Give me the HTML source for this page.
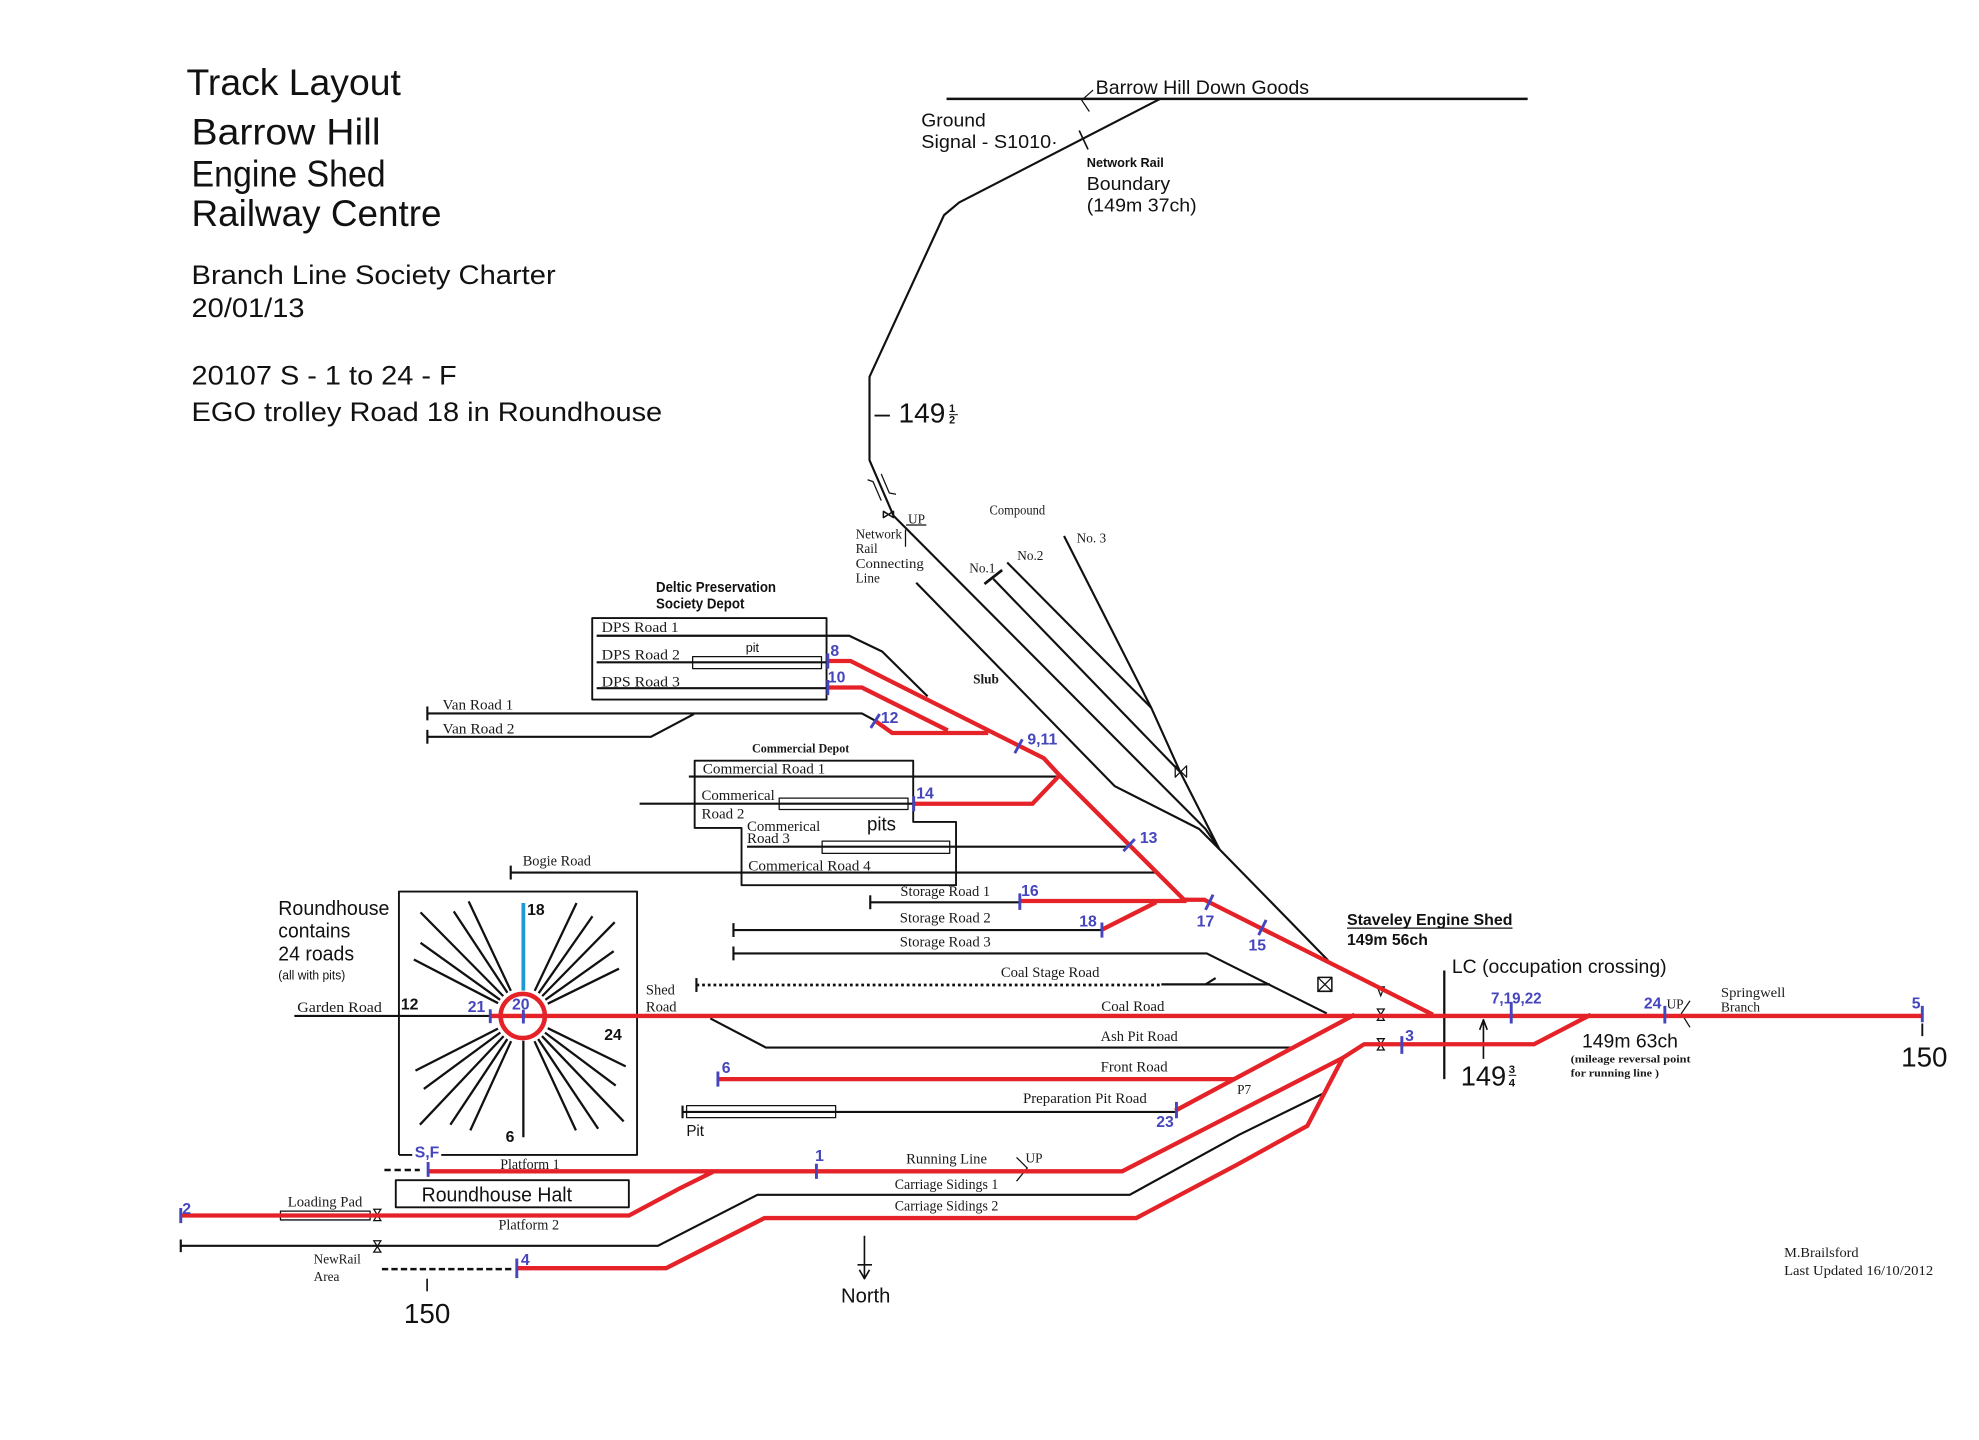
<!DOCTYPE html>
<html><head><meta charset="utf-8"><style>
html,body{margin:0;padding:0;background:#fff;}
svg{display:block;}
.s{font-family:"Liberation Serif",serif;font-size:11.5px;fill:#1a1a1a;}
.a{font-family:"Liberation Sans",sans-serif;fill:#111;}
.bl{font-family:"Liberation Sans",sans-serif;font-weight:bold;font-size:12.5px;fill:#4545bd;}
.bk{font-family:"Liberation Sans",sans-serif;font-weight:bold;font-size:12.5px;fill:#111;}
</style></head><body>
<svg xmlns="http://www.w3.org/2000/svg" width="1979" height="1440" viewBox="0 0 1560 1135" preserveAspectRatio="none">
<rect width="1560" height="1135" fill="#fff"/>

<!-- Title block -->
<g class="a">
<text x="147" y="75" font-size="29" textLength="169" lengthAdjust="spacingAndGlyphs">Track Layout</text>
<text x="151" y="114" font-size="29" textLength="149" lengthAdjust="spacingAndGlyphs">Barrow Hill</text>
<text x="151" y="147" font-size="29" textLength="153" lengthAdjust="spacingAndGlyphs">Engine Shed</text>
<text x="151" y="178" font-size="29" textLength="197" lengthAdjust="spacingAndGlyphs">Railway Centre</text>
<text x="151" y="224" font-size="21" textLength="287" lengthAdjust="spacingAndGlyphs">Branch Line Society Charter</text>
<text x="151" y="250" font-size="21" textLength="89" lengthAdjust="spacingAndGlyphs">20/01/13</text>
<text x="151" y="303" font-size="21" textLength="209" lengthAdjust="spacingAndGlyphs">20107 S - 1 to 24 - F</text>
<text x="151" y="332" font-size="21" textLength="371" lengthAdjust="spacingAndGlyphs">EGO trolley Road 18 in Roundhouse</text>
</g>

<g transform="matrix(0.9958 0 0 0.9956 -0.7 0.3)">
<!-- Black track lines -->
<g fill="none" stroke="#111" stroke-width="1.7" stroke-linejoin="round">
<path d="M750 78 H1210" stroke-width="2"/>
<path d="M919 78 L760 160 L748 170 L689 298 L689 364 L708 408 L955 656 L966 672 L1052 760"/>
<path d="M726 461 L883 622 L950 656 L966 672"/>
<path d="M787 458 L935 611"/>
<path d="M798 445 L912 560"/>
<path d="M843 424 L912 560 L935 611 L966 672"/>
<rect x="469.5" y="489" width="185.5" height="64.5" stroke-width="1.5"/>
<path d="M473 503 H673 L699 515.5 L735 551"/>
<path d="M473 524 H656"/>
<rect x="549" y="519.5" width="102" height="9.5" stroke-width="1"/>
<path d="M473 544.5 H656"/>
<path d="M339 564.5 H683 L693 570"/>
<path d="M339 559 V570"/>
<path d="M339 583 H516 L550 565"/>
<path d="M339 577.5 V588.5"/>
<path d="M550.6 601.9 H723.6 V650.4 H757.5 V700.5 H587.7 V655.2 H550.6 Z" stroke-width="1.5"/>
<path d="M546 614.5 H840"/>
<path d="M507 636 H725"/>
<rect x="617.5" y="631.6" width="102" height="9" stroke-width="1"/>
<path d="M592 670 H893"/>
<rect x="651.5" y="665.6" width="101" height="9.7" stroke-width="1"/>
<path d="M405 690.5 H915"/>
<path d="M405 685 V696"/>
<path d="M689.6 714 H808"/>
<path d="M689.6 708.5 V719.5"/>
<path d="M581.3 736 H873"/>
<path d="M581.3 730.5 V741.5"/>
<path d="M581.3 754.5 H956 L1051 802"/>
<path d="M581.3 749 V760"/>
<path d="M552 779.5 H920" stroke-dasharray="2.2 2.3" stroke-width="2.2"/>
<path d="M552 774 V785"/>
<path d="M920 779 H1006"/>
<path d="M955 779 L963 774"/>
<path d="M563 806 L607 829 H1025"/>
<path d="M541 880 H931"/>
<path d="M541 875 V885"/>
<rect x="544.2" y="875" width="118" height="9.5" stroke-width="1"/>
<path d="M143.8 986 H521.5 L600.3 945.6 H895 L981.7 898 L1049 865"/>
<path d="M143.8 981 V991"/>
<path d="M233.7 804 H396"/>
<path d="M316.5 914 V705.5 H505 V914 H350 M316.5 914 H327" stroke-width="1.5"/>
<rect x="314" y="934" width="184.5" height="21.5" stroke-width="1.5"/>
<path d="M305 926 H333" stroke-dasharray="5 3" stroke-width="2"/>
<path d="M303 1004.4 H408" stroke-dasharray="5 2.5" stroke-width="2"/>
<rect x="222.7" y="958.5" width="71" height="7" stroke-width="1"/>
<path d="M685 978 V1012 M681 1005 L685 1012 L689 1005 M679.5 1001 H691" stroke-width="1.3"/>
<path d="M338.8 1012 V1022" stroke-width="1.3"/>
<path d="M1522.4 810 V820" stroke-width="1.5"/>
<path d="M1144 768 V854" stroke-width="1.8"/>
<path d="M1175 838 V808 M1172 815 L1175 807 L1178 815" stroke-width="1.3"/>
<path d="M855 103 L862 118" stroke-width="1.3"/>
<path d="M866 71 L857 79 L863 88" stroke-width="1"/>
<path d="M805.4 916 L813.9 924.4 L805.4 934.8" stroke-width="1"/>
<path d="M1338.5 792 L1331.7 802 L1338.5 813" stroke-width="1"/>
<rect x="1044" y="773.5" width="11" height="11" stroke-width="1.2"/>
<path d="M1044 773.5 L1055 784.5 M1055 773.5 L1044 784.5" stroke-width="1"/>
<path d="M780 462 L794 451" stroke-width="2.2"/>
<path d="M717.5 419 V432.5 M718 415.3 H734" stroke-width="1"/>
<path d="M687.5 379.5 L691.8 381 L698.3 396 M698.3 375 L704.7 390 L710 391" stroke-width="1"/>
<path d="M700 404.5 L708 409.5 V404.5 L700 409.5 Z" stroke-width="1.2"/>
<path d="M931 606 L940 615 L940 606 L931 615 Z" stroke-width="1"/>
</g>

<!-- Hourglass symbols -->
<g fill="none" stroke="#111" stroke-width="1">
<path d="M1091 781 H1096.5 L1093.7 788 Z"/>
<path d="M1091 798.5 H1096.5 L1091 807.5 H1096.5 Z"/>
<path d="M1091 822 H1096.5 L1091 831 H1096.5 Z"/>
<path d="M296.6 957 H302.2 L296.6 966 H302.2 Z"/>
<path d="M296.6 982 H302.2 L296.6 991 H302.2 Z"/>
</g>

<!-- Roundhouse spokes -->
<g stroke="#111" stroke-width="1.8" fill="none">
<path d="M405.1 784.1 L371.7 713.3 M402.4 785.6 L359.9 721.2 M399.1 788.3 L333.6 722 M396.6 791.2 L333.6 746.1 M395 793.9 L328.3 759.3"/>
<path d="M424 784.1 L457.1 714.6 M427.1 786 L469.7 725.1 M429.9 788.3 L487.3 729.8 M432.4 791.2 L486.5 752.7 M434.3 794.3 L490.7 766.6"/>
<path d="M394.9 814 L329.6 847.3 M396.8 817.1 L336.2 861.8 M399.4 820 L333.1 890.1 M402.3 822.3 L357.2 890.1 M405.3 824 L373 894.6"/>
<path d="M434.3 813.7 L496 843.9 M432.1 817.2 L488.1 859.1 M429.7 819.9 L494.4 887.5 M426.7 822.3 L474.2 893.3 M423.8 824 L456.6 894.6"/>
<path d="M415 823.6 V900"/>
</g>
<path d="M415 714.6 V784" stroke="#2196d8" stroke-width="3"/>

<!-- Red lines -->
<g fill="none" stroke="#e42228" stroke-width="3.4" stroke-linejoin="miter">
<circle cx="414.5" cy="804" r="17.5" fill="#fff" stroke-width="3.6"/>
<path d="M656 523 H674 L827 600 L839 613 L938 712 H954 L1135 803"/>
<path d="M656 544 H683 L751 578"/>
<path d="M693 570 L707 580 H783"/>
<path d="M723 636 H818 L839 614"/>
<path d="M808 713 H940"/>
<path d="M872.4 736 L916 714"/>
<path d="M388 804 H1522"/>
<path d="M569 854 H978"/>
<path d="M931 879 L1073 803"/>
<path d="M339.6 927 H889 L1063.6 837.2 L1080.5 826.4 H1215 L1260 803"/>
<path d="M143.8 962 H498.6 L538.6 940.6 L565 927.5"/>
<path d="M409.8 1003.7 H528 L605.9 964 H900.2 L979.5 922 L1035.6 891 L1063.6 837.2"/>
</g>

<!-- Blue ticks -->
<g stroke="#4545bd" stroke-width="2.3" fill="none">
<path d="M656 517 V529 M656 538 V550 M690 576 L697 565 M804 596 L810 585 M724 630 V642 M890 673.5 L899 664"/>
<path d="M808 707 V720 M873 730 V742 M955 720 L961 708 M997 740 L1003 728 M932 872 V885 M569 848 V860"/>
<path d="M647 921 V933 M339.6 919.6 V931.4 M143.8 956 V968 M409.8 996 V1011.6 M388.8 798.7 V809.7 M415 799 V810"/>
<path d="M1110.4 820 V834 M1197 793 V810 M1318.6 796 V810 M1522.4 796 V809"/>
</g>

<!-- Blue labels -->
<g class="bl">
<text x="658" y="519">8</text>
<text x="656" y="540">10</text>
<text x="698" y="572">12</text>
<text x="814" y="589">9,11</text>
<text x="726" y="632">14</text>
<text x="903" y="667">13</text>
<text x="809" y="709">16</text>
<text x="855" y="733">18</text>
<text x="948" y="733">17</text>
<text x="989" y="752">15</text>
<text x="916" y="892">23</text>
<text x="572" y="849">6</text>
<text x="646" y="919">1</text>
<text x="329" y="916">S,F</text>
<text x="145" y="961">2</text>
<text x="413" y="1001">4</text>
<text x="371" y="801">21</text>
<text x="406" y="799">20</text>
<text x="1113" y="824">3</text>
<text x="1181" y="794" textLength="40" lengthAdjust="spacingAndGlyphs">7,19,22</text>
<text x="1302" y="798">24</text>
<text x="1514" y="798">5</text>
</g>

<!-- Roundhouse black labels -->
<g class="bk">
<text x="418" y="724">18</text>
<text x="318" y="799">12</text>
<text x="479" y="823">24</text>
<text x="401" y="904">6</text>
</g>

<!-- Serif labels -->
<g class="s">
<text x="477" y="500" textLength="61" lengthAdjust="spacingAndGlyphs">DPS  Road 1</text>
<text x="477" y="522" textLength="62" lengthAdjust="spacingAndGlyphs">DPS  Road 2</text>
<text x="477" y="543" textLength="62" lengthAdjust="spacingAndGlyphs">DPS  Road 3</text>
<text x="351" y="561.5" textLength="56" lengthAdjust="spacingAndGlyphs">Van Road 1</text>
<text x="351" y="580.5" textLength="57" lengthAdjust="spacingAndGlyphs">Van Road 2</text>
<text x="557" y="612" textLength="97" lengthAdjust="spacingAndGlyphs">Commercial  Road 1</text>
<text x="556" y="633" textLength="58" lengthAdjust="spacingAndGlyphs">Commerical</text>
<text x="556" y="647.5" textLength="34" lengthAdjust="spacingAndGlyphs">Road 2</text>
<text x="592" y="657.5" textLength="58" lengthAdjust="spacingAndGlyphs">Commerical</text>
<text x="592" y="667" textLength="34" lengthAdjust="spacingAndGlyphs">Road 3</text>
<text x="593" y="689" textLength="97" lengthAdjust="spacingAndGlyphs">Commerical  Road 4</text>
<text x="414.5" y="685" textLength="54" lengthAdjust="spacingAndGlyphs">Bogie Road</text>
<text x="713.5" y="709" textLength="71" lengthAdjust="spacingAndGlyphs">Storage Road 1</text>
<text x="713" y="730" textLength="72" lengthAdjust="spacingAndGlyphs">Storage Road 2</text>
<text x="713" y="749" textLength="72" lengthAdjust="spacingAndGlyphs">Storage Road 3</text>
<text x="793" y="773" textLength="78" lengthAdjust="spacingAndGlyphs">Coal Stage Road</text>
<text x="512" y="787">Shed</text>
<text x="512" y="800.5">Road</text>
<text x="236" y="801" textLength="67" lengthAdjust="spacingAndGlyphs">Garden  Road</text>
<text x="872.5" y="800" textLength="50" lengthAdjust="spacingAndGlyphs">Coal Road</text>
<text x="872" y="824" textLength="61" lengthAdjust="spacingAndGlyphs">Ash Pit Road</text>
<text x="872" y="848" textLength="53" lengthAdjust="spacingAndGlyphs">Front Road</text>
<text x="810.5" y="873" textLength="98" lengthAdjust="spacingAndGlyphs">Preparation Pit Road</text>
<text x="718" y="921" textLength="64" lengthAdjust="spacingAndGlyphs">Running Line</text>
<text x="812.5" y="920" font-size="10.5">UP</text>
<text x="709" y="941" textLength="82" lengthAdjust="spacingAndGlyphs">Carriage Sidings 1</text>
<text x="709" y="958" textLength="82" lengthAdjust="spacingAndGlyphs">Carriage Sidings 2</text>
<text x="396.7" y="925" textLength="47" lengthAdjust="spacingAndGlyphs">Platform 1</text>
<text x="395.3" y="973" textLength="48" lengthAdjust="spacingAndGlyphs">Platform 2</text>
<text x="228.5" y="955" textLength="59" lengthAdjust="spacingAndGlyphs">Loading  Pad</text>
<text x="249" y="1000" font-size="10.5">NewRail</text>
<text x="249" y="1014" font-size="10.5">Area</text>
<text x="678" y="426" font-size="10.5">Network</text>
<text x="678" y="437.5" font-size="10.5">Rail</text>
<text x="678" y="449.5" font-size="10.5" textLength="54" lengthAdjust="spacingAndGlyphs">Connecting</text>
<text x="678" y="461" font-size="10.5">Line</text>
<text x="719.5" y="414" font-size="10.5">UP</text>
<text x="784" y="407" font-size="10.5" textLength="44" lengthAdjust="spacingAndGlyphs">Compound</text>
<text x="853" y="429" font-size="10.5">No. 3</text>
<text x="806" y="443" font-size="10.5">No.2</text>
<text x="768" y="453" font-size="10.5">No.1</text>
<text x="771" y="541" font-size="10.5" font-weight="bold">Slub</text>
<text x="980" y="866" font-size="10.5">P7</text>
<text x="1363" y="789" font-size="11" textLength="51" lengthAdjust="spacingAndGlyphs">Springwell</text>
<text x="1363" y="800.5" font-size="11" textLength="31" lengthAdjust="spacingAndGlyphs">Branch</text>
<text x="1320" y="798" font-size="10.5">UP</text>
<text x="1413" y="995" font-size="11" textLength="59" lengthAdjust="spacingAndGlyphs">M.Brailsford</text>
<text x="1413" y="1009" font-size="11" textLength="118" lengthAdjust="spacingAndGlyphs">Last Updated  16/10/2012</text>
<text x="1244" y="841" font-size="8" font-weight="bold" textLength="95" lengthAdjust="spacingAndGlyphs">(mileage reversal point</text>
<text x="1244" y="852" font-size="8" font-weight="bold" textLength="70" lengthAdjust="spacingAndGlyphs">for running line )</text>
<text x="596" y="595.5" font-size="10" font-weight="bold" textLength="77" lengthAdjust="spacingAndGlyphs">Commercial Depot</text>
</g>

<!-- Sans labels -->
<g class="a">
<text x="520" y="468.5" font-size="12" font-weight="bold" textLength="95" lengthAdjust="spacingAndGlyphs">Deltic Preservation</text>
<text x="520" y="481.5" font-size="12" font-weight="bold" textLength="70" lengthAdjust="spacingAndGlyphs">Society Depot</text>
<text x="591" y="516" font-size="10">pit</text>
<text x="687" y="657" font-size="15" textLength="23" lengthAdjust="spacingAndGlyphs">pits</text>
<text x="544" y="899" font-size="12.5" textLength="14" lengthAdjust="spacingAndGlyphs">Pit</text>
<text x="221" y="724" font-size="16" textLength="88" lengthAdjust="spacingAndGlyphs">Roundhouse</text>
<text x="221" y="742" font-size="16" textLength="57" lengthAdjust="spacingAndGlyphs">contains</text>
<text x="221" y="760" font-size="16" textLength="60" lengthAdjust="spacingAndGlyphs">24 roads</text>
<text x="221" y="775" font-size="10" textLength="53" lengthAdjust="spacingAndGlyphs">(all with pits)</text>
<text x="394" y="951" font-size="16" text-anchor="middle" textLength="119" lengthAdjust="spacingAndGlyphs">Roundhouse Halt</text>
<text x="686" y="1031" font-size="16" text-anchor="middle">North</text>
<text x="338.8" y="1047" font-size="22" text-anchor="middle">150</text>
<text x="1524" y="844" font-size="22" text-anchor="middle">150</text>
<text x="1067" y="732" font-size="12.5" font-weight="bold" textLength="131" lengthAdjust="spacingAndGlyphs">Staveley Engine Shed</text>
<path d="M1067 734.5 H1198" stroke="#111" stroke-width="1"/>
<text x="1067" y="748" font-size="12.5" font-weight="bold" textLength="64" lengthAdjust="spacingAndGlyphs">149m 56ch</text>
<text x="1150" y="770" font-size="15.5" textLength="170" lengthAdjust="spacingAndGlyphs">LC (occupation crossing)</text>
<text x="1253" y="829" font-size="15.5" textLength="76" lengthAdjust="spacingAndGlyphs">149m 63ch</text>
<text x="1157" y="859" font-size="22" textLength="36" lengthAdjust="spacingAndGlyphs">149</text>
<text x="1195" y="849" font-size="9" font-weight="bold">3</text>
<path d="M1195 851 H1201" stroke="#111" stroke-width="0.8"/>
<text x="1195" y="860" font-size="9" font-weight="bold">4</text>
<text x="693" y="334" font-size="22">–</text>
<text x="712" y="334" font-size="22" textLength="37" lengthAdjust="spacingAndGlyphs">149</text>
<text x="752" y="326" font-size="8.5" font-weight="bold">1</text>
<path d="M752 328 H759" stroke="#111" stroke-width="0.8"/>
<text x="752" y="335" font-size="8.5" font-weight="bold">2</text>
<text x="868" y="74" font-size="15" textLength="169" lengthAdjust="spacingAndGlyphs">Barrow Hill Down Goods</text>
<text x="730" y="100" font-size="14.5" textLength="51" lengthAdjust="spacingAndGlyphs">Ground</text>
<text x="730" y="117" font-size="14.5" textLength="108" lengthAdjust="spacingAndGlyphs">Signal - S1010·</text>
<text x="861" y="132" font-size="10.5" font-weight="bold" textLength="61" lengthAdjust="spacingAndGlyphs">Network Rail</text>
<text x="861" y="150" font-size="14.5" textLength="66" lengthAdjust="spacingAndGlyphs">Boundary</text>
<text x="861" y="167" font-size="14.5" textLength="87" lengthAdjust="spacingAndGlyphs">(149m 37ch)</text>
</g>
</g>
</svg>
</body></html>
